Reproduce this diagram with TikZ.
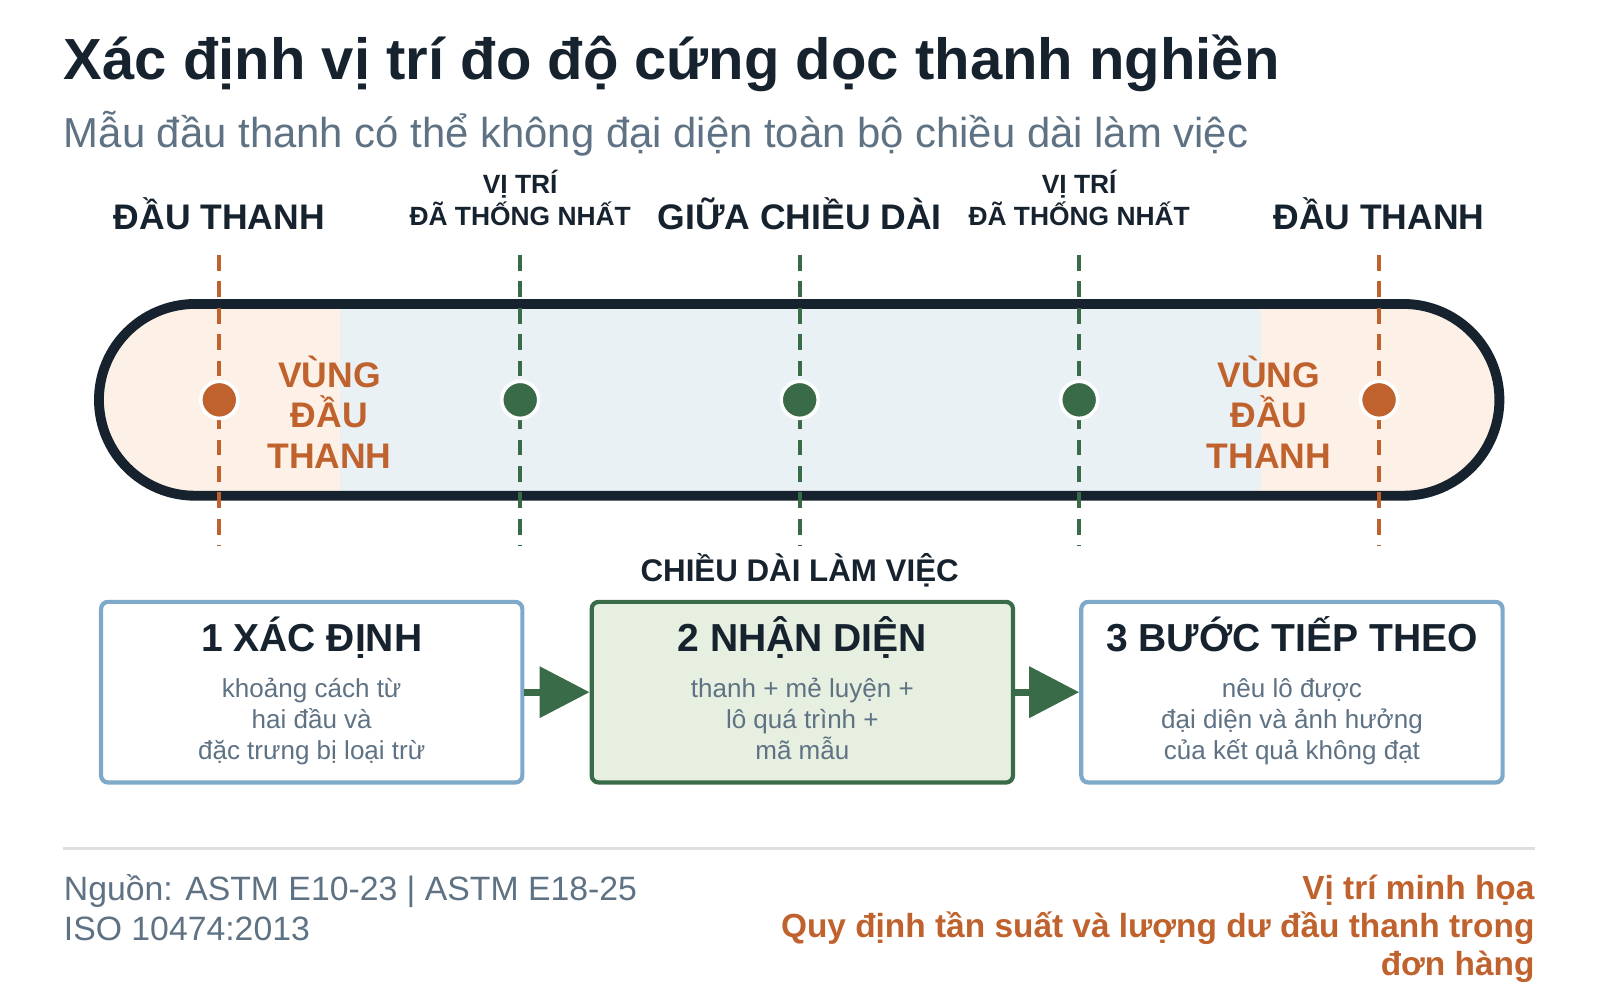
\documentclass[tikz,border=0pt]{standalone}
\usepackage{fontspec}
\setmainfont{Liberation Sans}
\usetikzlibrary{arrows.meta}
\definecolor{ink}{HTML}{16222E}
\definecolor{gr}{HTML}{5E7284}
\definecolor{org}{HTML}{C0622D}
\definecolor{grn}{HTML}{3A6B48}
\definecolor{orgf}{HTML}{FDF0E6}
\definecolor{bluef}{HTML}{EAF1F5}
\definecolor{bb}{HTML}{7FA9C9}
\definecolor{grnf}{HTML}{E6EFE0}
\tikzset{
 toplab/.style={font=\bfseries\fontsize{10.1}{12}\selectfont,text=ink,anchor=base},
 smlab/.style={font=\bfseries\fontsize{7.5}{9}\selectfont,text=ink,align=center,anchor=base},
 guide/.style={line width=1.1pt,dash pattern=on 4.5pt off 3pt},
 dot/.style={circle,minimum size=0.37cm,inner sep=0,draw=white,line width=1pt},
 zone/.style={font=\bfseries\fontsize{10.1}{11.5}\selectfont,text=org,align=center},
 box/.style={draw=bb,line width=1.2pt,fill=white,rounded corners=2pt,minimum width=4.21cm,minimum height=1.805cm,anchor=north west},
 btitle/.style={font=\bfseries\fontsize{11.1}{13}\selectfont,text=ink,anchor=base},
 bbody/.style={font=\fontsize{7.4}{8.8}\selectfont,text=gr,align=center,anchor=north},
 arr/.style={-{Triangle[length=0.5cm,width=0.5cm]},line width=2pt,draw=grn},
}
\begin{document}
\begin{tikzpicture}[x=0.0102cm,y=-0.0102cm]
\useasboundingbox (0,0) rectangle (1568.6,980.4);
\node[anchor=base west,inner sep=0,font=\bfseries\fontsize{16.5}{20}\selectfont,text=ink] (title) at (62,78) {Xác định vị trí đo độ cứng dọc thanh nghiền};
\node[anchor=base west,inner sep=0,font=\fontsize{11.9}{14}\selectfont,text=gr] (sub) at (62,145) {Mẫu đầu thanh có thể không đại diện toàn bộ chiều dài làm việc};
% bar
\begin{scope}
\clip[rounded corners=0.96cm] (97,298) rectangle (1470,486);
\fill[bluef] (97,298) rectangle (1470,486);
\fill[orgf] (97,298) rectangle (333,486);
\fill[orgf] (1236,298) rectangle (1470,486);
\end{scope}
\draw[ink,line width=2.8pt,rounded corners=0.96cm] (97,298) rectangle (1470,486);
\node[zone] (z1) at (323,404) {VÙNG\\ĐẦU\\THANH};
\node[zone] (z2) at (1244,404) {VÙNG\\ĐẦU\\THANH};
% positions
\foreach \n/\x/\c in {a/215/org,b/510/grn,c/784/grn,d/1058/grn,e/1352/org}{
 \coordinate (\n t) at (\x,250);
 \coordinate (\n b) at (\x,535);
 \draw[guide,\c] (\n t) -- (\n b);
 \node[dot,fill=\c] (\n) at (\x,392) {};
}
\node[toplab] (la) at (215,225) {ĐẦU THANH};
\node[toplab] (le) at (1352,225) {ĐẦU THANH};
\node[toplab] (lc) at (784,225) {GIỮA CHIỀU DÀI};
\node[smlab] (lb) at (510,190) {VỊ TRÍ};
\node[smlab] (lb2) at (510,221) {ĐÃ THỐNG NHẤT};
\node[smlab] (ld) at (1058,190) {VỊ TRÍ};
\node[smlab] (ld2) at (1058,221) {ĐÃ THỐNG NHẤT};
\node[toplab,font=\bfseries\fontsize{8.9}{10}\selectfont] (work) at (784,570) {CHIỀU DÀI LÀM VIỆC};
% boxes
\node[box] (b1) at (97,588) {};
\node[box,draw=grn,fill=grnf] (b2) at (578,588) {};
\node[box] (b3) at (1058,588) {};
\foreach \b/\t/\s in {b1/1 XÁC ĐỊNH/{khoảng cách từ\\hai đầu và\\đặc trưng bị loại trừ},b2/2 NHẬN DIỆN/{thanh + mẻ luyện +\\lô quá trình +\\mã mẫu},b3/3 BƯỚC TIẾP THEO/{nêu lô được\\đại diện và ảnh hưởng\\của kết quả không đạt}}{
 \node[btitle] (\b T) at ([yshift=-0.52cm]\b.north) {\t};
 \node[bbody] (\b B) at ([yshift=-0.66cm]\b.north) {\s};
}
\draw[arr] (b1.east) -- (b2.west);
\draw[arr] (b2.east) -- (b3.west);
\draw[draw=gray!25,line width=1pt] (62,832) coordinate (s1) -- (1505,832) coordinate (s2);
\node[anchor=north west,inner sep=0,font=\fontsize{9.6}{11.3}\selectfont,text=gr,align=left] (src) at (62,857) {Nguồn: ASTM E10-23 | ASTM E18-25\\ISO 10474:2013};
\node[anchor=north east,inner sep=0,font=\bfseries\fontsize{9.5}{10.8}\selectfont,text=org,align=right] (note) at (1505,857) {Vị trí minh họa\\Quy định tần suất và lượng dư đầu thanh trong\\đơn hàng};
\end{tikzpicture}
\end{document}
